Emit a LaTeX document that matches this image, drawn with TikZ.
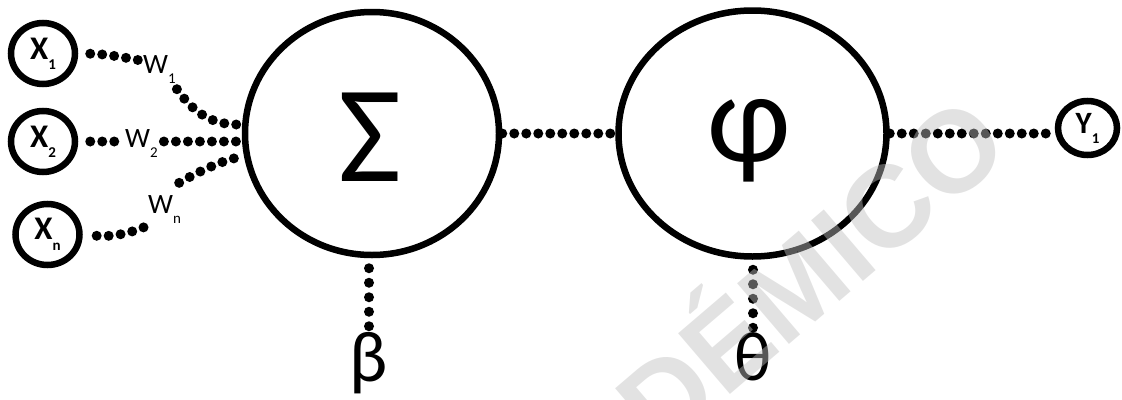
\documentclass[tikz,border=0pt]{standalone}
\usepackage{fontspec}
\setmainfont{Carlito}
\newfontfamily\wmfont{Liberation Sans}
\usetikzlibrary{shapes.geometric,calc}
\newcommand\inlab[3]{\textbf{#1}\raisebox{#3}{\fontsize{15}{15}\selectfont\textbf{#2}}}
\newcommand\wtext[2]{#1\raisebox{-10pt}{\fontsize{15}{15}\selectfont #2}}
\tikzset{
  ring/.style={draw, ellipse, line width=6.5pt, inner sep=0pt},
  smallring/.style={ring, minimum width=64pt, minimum height=61pt, font=\fontsize{33}{33}\selectfont},
  dotline/.style={line width=10pt, line cap=round, dash pattern=on 0pt off 12pt},
  vdotline/.style={line width=10pt, line cap=round, dash pattern=on 0pt off 14.5pt},
  wlab/.style={inner sep=2pt, anchor=base west, font=\fontsize{28}{28}\selectfont},
  greek/.style={inner sep=0pt, anchor=north},
  watermark/.style={inner sep=0pt, anchor=base, rotate=40.5, text=black!25, text opacity=0.45, font=\wmfont\bfseries\fontsize{116}{116}\selectfont},
}
\begin{document}
\begin{tikzpicture}[x=1pt,y=-1pt]
\useasboundingbox (0,0) rectangle (1122,399);
% main neurons
\node[ring, minimum width=254pt, minimum height=243pt] (sig) at (372,133.5) {};
\node[ring, minimum width=268pt, minimum height=246pt] (phi) at (752.5,133.5) {};
\node[inner sep=0pt, font=\fontsize{138}{138}\selectfont] (sigt) at (370,137) {Σ};
\node[inner sep=0pt, font=\fontsize{128}{128}\selectfont] (phit) at (749,141) {φ};
% inputs and output
\node[smallring] (x1) at (43,53.5) {\inlab{X}{1}{-10pt}};
\node[smallring] (x2) at (43,141.5) {\inlab{X}{2}{-10pt}};
\node[smallring] (xn) at (47.5,234.5) {\inlab{X}{n}{-11pt}};
\node[ring, minimum width=59pt, minimum height=54pt, font=\fontsize{31}{31}\selectfont] (y1) at (1087.5,128) {\textbf{Y}\raisebox{-10pt}{\fontsize{15}{15}\selectfont\textbf{1}}};
% weight labels
\node[wlab] (w1) at (141,73) {\wtext{W}{1}};
\node[wlab] (w2) at (123,147) {\wtext{W}{2}};
\node[wlab] (wn) at (146,213) {\wtext{W}{n}};
% bias / threshold
\node[greek, font=\fontsize{72}{72}\selectfont] (beta) at (369,332) {β};
\node[greek, font=\fontsize{70}{70}\selectfont] (theta) at (753,332) {θ};
% connectors
\draw[dotline, shorten <=12pt] (x1.east) .. controls (105,54) and (122,57) .. ($(w1.west)+(-3,-9)$);
\draw[dotline] ($(w1.south east)+(-1,4)$) .. controls (193,112) and (212,126) .. (sig.176);
\draw[dotline, shorten <=12pt, shorten >=5pt] (x2.east) -- (w2.west |- x2.east);
\draw[dotline, shorten <=4pt] (w2.east |- x2.east) -- (sig.west |- x2.east);
\draw[dotline, shorten <=14pt] (xn.east) .. controls (110,237) and (128,234) .. ($(wn.south west)+(-2,2)$);
\draw[dotline] ($(wn.north east)+(-4,-10)$) .. controls (198,172) and (222,160) .. (sig.190);
\draw[dotline] (sig.east) -- (phi.west);
\draw[dotline] (phi.east) -- (phi.east -| y1.west);
\draw[vdotline, shorten <=10pt] (beta.north |- sig.south) -- (beta.north);
\draw[vdotline, shorten <=10pt] (theta.north |- phi.south) -- (theta.north);
% watermark
\node[watermark] (wm) at (742,385) {ACADÉMICO};
\end{tikzpicture}
\end{document}
